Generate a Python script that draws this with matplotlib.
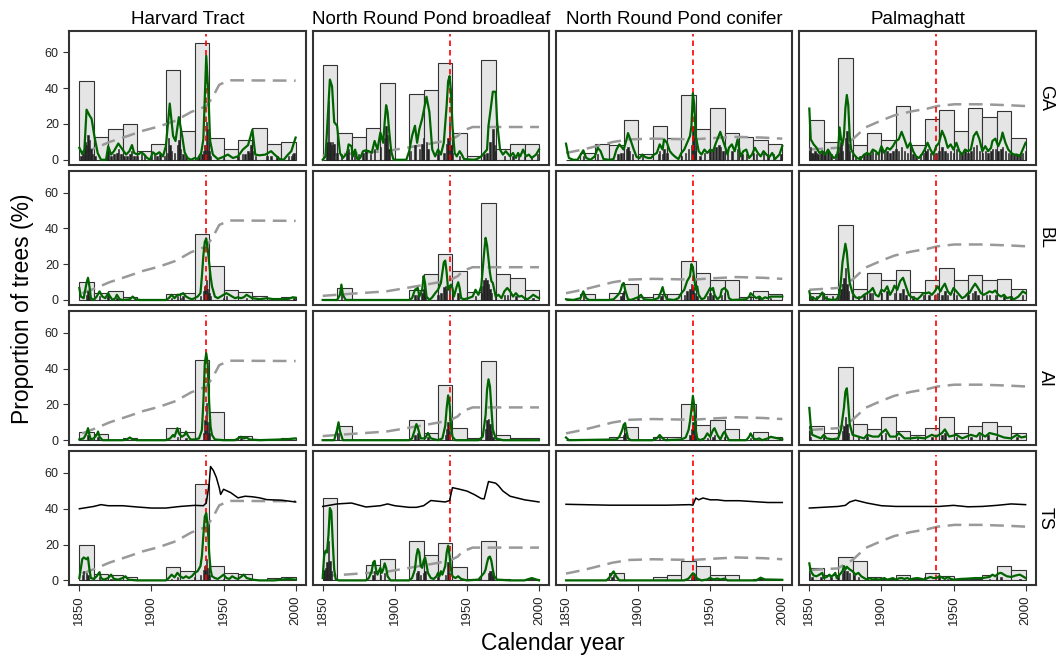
import numpy as np
import matplotlib.pyplot as plt

plt.rcParams['font.family'] = ['Liberation Sans', 'DejaVu Sans']

sites = ["Harvard Tract", "North Round Pond broadleaf", "North Round Pond conifer", "Palmaghatt"]
groups = ["GA", "BL", "AI", "TS"]
decades = np.arange(1850, 2000, 10)
hurricane = 1938

# decadal proportion of trees (%) - light grey bars
dec_ga_hf = [44, 13, 17, 20, 5, 9, 50, 16, 65, 12, 6, 11, 18, 9, 10]
dec_ga_nb = [53, 15, 13, 18, 43, 0, 37, 39, 54, 15, 2, 56, 6, 9, 9]
dec_ga_nc = [0, 4, 9, 8, 22, 3, 19, 12, 36, 17, 29, 15, 13, 11, 9]
dec_ga_pg = [22, 10, 57, 8, 15, 11, 30, 8, 23, 28, 16, 29, 24, 27, 12]
dec_bl_hf = [10, 4, 5, 1.5, 0, 0, 3.4, 3.8, 37, 19, 5.5, 4.4, 2.3, 1.1, 1.7]
dec_bl_nb = [0, 6.5, 0, 0, 0, 0, 5.3, 14.3, 25.5, 16, 4.4, 54, 14.3, 12, 5.3]
dec_bl_nc = [0, 3.6, 0, 3.8, 9, 1.5, 3.6, 3.6, 22, 15, 11.4, 11, 1.5, 5, 3.4]
dec_bl_pg = [3.8, 3.4, 42, 6.3, 15, 11.4, 16.6, 4.4, 11, 17.7, 11, 13.7, 11, 11.6, 5.9]
dec_ai_hf = [4.8, 3.4, 0, 1.1, 0, 0, 6.9, 4.6, 45, 15.6, 0.6, 2.5, 0.6, 0.6, 1.1]
dec_ai_nb = [0, 8, 0, 0, 0, 0, 11, 4, 31, 7, 1, 44, 3, 1, 1]
dec_ai_nc = [0, 0, 0, 1.5, 7.2, 0, 1.5, 1.5, 20, 8.4, 11, 6.3, 0, 4.6, 1.5]
dec_ai_pg = [8, 4, 41, 9, 6, 13, 5, 3, 7, 13, 4, 8, 10, 8, 4]
dec_ts_hf = [20, 3.6, 2.9, 1.9, 0, 0, 7.2, 5.5, 54, 7.8, 4.2, 3.4, 0, 1.3, 1.9]
dec_ts_nb = [46, 0, 0, 8.6, 11.8, 0, 22, 14.3, 21, 7.2, 1, 22, 1, 0, 1]
dec_ts_nc = [0, 0, 0, 4, 0, 0, 2, 3, 11, 8, 3, 3, 0, 1, 1]
dec_ts_pg = [7, 3.2, 13, 11, 1.7, 1, 3.2, 1, 4.2, 2.7, 1, 1, 3.2, 8, 6]

# annual proportion of trees (%) - thin black bars (year, value)
ann_ga_hf = [(1851, 2), (1852, 5), (1853, 3), (1854, 10), (1855, 8), (1856, 14), (1857, 11), (1858, 6), (1859, 3),
             (1861, 2), (1869, 2), (1870, 5), (1872, 2), (1874, 3), (1876, 4), (1877, 6), (1879, 3), (1881, 2),
             (1883, 2), (1885, 3), (1886, 5), (1888, 2), (1890, 2), (1893, 3), (1895, 2), (1900, 2), (1902, 3),
             (1904, 2), (1906, 3), (1909, 2), (1911, 4), (1912, 12), (1913, 8), (1914, 5), (1916, 4), (1918, 8),
             (1919, 11), (1920, 6), (1922, 3), (1924, 2), (1933, 2), (1935, 3), (1936, 5), (1937, 8), (1938, 21),
             (1939, 17), (1940, 5), (1941, 2), (1950, 1), (1960, 2), (1963, 3), (1965, 3), (1967, 5), (1968, 4),
             (1969, 8), (1970, 5), (1972, 2), (1980, 2), (1983, 2), (1987, 2), (1995, 2), (1997, 2), (1998, 3),
             (1999, 4)]
ann_ga_nb = [(1853, 10), (1854, 33), (1855, 10), (1856, 8), (1857, 10), (1858, 9), (1860, 4), (1863, 3), (1867, 5),
             (1868, 6), (1870, 6), (1872, 5), (1875, 3), (1878, 4), (1880, 5), (1883, 3), (1886, 6), (1890, 7),
             (1893, 12), (1894, 19), (1895, 14), (1896, 6), (1911, 5), (1914, 8), (1917, 6), (1919, 9), (1920, 12),
             (1922, 10), (1923, 6), (1930, 3), (1934, 4), (1936, 9), (1937, 12), (1938, 21), (1939, 8), (1940, 4),
             (1945, 2), (1962, 3), (1964, 4), (1966, 10), (1968, 17), (1969, 8), (1970, 5), (1976, 2), (1982, 2),
             (1986, 3), (1990, 2), (1995, 2), (1999, 3)]
ann_ga_nc = [(1862, 2), (1872, 3), (1886, 3), (1888, 4), (1890, 4), (1892, 6), (1893, 7), (1894, 5), (1896, 3),
             (1903, 2), (1914, 3), (1915, 5), (1917, 3), (1918, 6), (1920, 4), (1930, 2), (1933, 4), (1935, 6),
             (1937, 8), (1938, 19), (1939, 12), (1940, 5), (1943, 2), (1946, 4), (1950, 5), (1952, 6), (1954, 7),
             (1956, 8), (1957, 7), (1959, 5), (1962, 3), (1965, 5), (1969, 6), (1972, 3), (1975, 3), (1980, 4),
             (1982, 3), (1987, 4), (1990, 2), (1994, 3), (1999, 3)]
ann_ga_pg = [(1850, 5), (1851, 7), (1852, 4), (1853, 3), (1854, 5), (1855, 4), (1856, 3), (1858, 4), (1859, 5),
             (1861, 3), (1863, 5), (1865, 3), (1868, 3), (1870, 4), (1871, 7), (1872, 10), (1873, 5), (1875, 12),
             (1876, 16), (1877, 9), (1878, 5), (1880, 3), (1882, 2), (1885, 2), (1888, 3), (1890, 4), (1892, 3),
             (1894, 5), (1896, 4), (1898, 3), (1900, 6), (1902, 4), (1904, 5), (1906, 4), (1908, 5), (1910, 6),
             (1912, 5), (1914, 7), (1916, 5), (1918, 4), (1920, 6), (1922, 3), (1924, 2), (1927, 3), (1929, 4),
             (1931, 5), (1932, 6), (1934, 4), (1936, 3), (1938, 4), (1940, 5), (1942, 7), (1944, 5), (1946, 4),
             (1948, 5), (1950, 4), (1952, 6), (1954, 4), (1956, 3), (1958, 5), (1960, 4), (1962, 5), (1964, 7),
             (1966, 8), (1968, 5), (1970, 4), (1972, 5), (1974, 4), (1976, 5), (1977, 6), (1979, 6), (1981, 5),
             (1983, 6), (1984, 7), (1986, 5), (1988, 4), (1990, 3), (1992, 3), (1994, 3), (1996, 3), (1998, 4),
             (2000, 5)]
ann_bl_hf = [(1855, 3), (1856, 5), (1857, 2), (1864, 2), (1870, 2), (1876, 1), (1914, 1), (1918, 2), (1920, 1),
             (1922, 2), (1934, 2), (1936, 5), (1937, 8), (1938, 11), (1939, 6), (1940, 4), (1941, 2), (1950, 1),
             (1952, 2), (1966, 1), (1999, 1)]
ann_bl_nb = [(1863, 5), (1914, 3), (1916, 3), (1919, 4), (1920, 6), (1921, 4), (1930, 3), (1932, 4), (1934, 7),
             (1935, 8), (1936, 6), (1938, 7), (1940, 3), (1944, 4), (1956, 2), (1960, 4), (1961, 8), (1962, 11),
             (1963, 12), (1964, 11), (1965, 9), (1966, 6), (1967, 4), (1970, 2), (1976, 3), (1978, 3), (1984, 2),
             (1990, 1), (1996, 1)]
ann_bl_nc = [(1862, 3), (1888, 2), (1889, 4), (1890, 5), (1900, 1), (1916, 2), (1917, 3), (1932, 3), (1934, 5),
             (1936, 6), (1937, 9), (1938, 7), (1939, 4), (1941, 2), (1948, 2), (1950, 4), (1952, 3), (1958, 3),
             (1960, 4), (1978, 2), (1984, 2), (1992, 1)]
ann_bl_pg = [(1850, 4), (1852, 2), (1855, 2), (1859, 3), (1862, 2), (1866, 2), (1871, 3), (1872, 6), (1873, 9),
             (1874, 12), (1875, 18), (1876, 9), (1877, 5), (1880, 3), (1884, 2), (1888, 3), (1892, 4), (1894, 4),
             (1900, 4), (1904, 5), (1909, 4), (1913, 4), (1915, 6), (1917, 3), (1922, 2), (1929, 3), (1933, 3),
             (1937, 3), (1939, 4), (1942, 3), (1944, 5), (1946, 3), (1950, 4), (1952, 3), (1960, 3), (1963, 4),
             (1965, 5), (1967, 3), (1973, 3), (1975, 3), (1979, 3), (1985, 2), (1990, 2), (1998, 3)]
ann_ai_hf = [(1856, 3), (1863, 2), (1918, 2), (1924, 1), (1936, 4), (1937, 11), (1938, 21), (1939, 10), (1940, 4),
             (1962, 1)]
ann_ai_nb = [(1861, 4), (1914, 3), (1916, 4), (1923, 2), (1935, 3), (1936, 6), (1937, 10), (1938, 5), (1963, 6),
             (1964, 11), (1965, 12), (1966, 9), (1967, 5), (1968, 2)]
ann_ai_nc = [(1890, 3), (1891, 4), (1915, 1), (1936, 3), (1937, 6), (1938, 10), (1939, 7), (1940, 3), (1948, 1),
             (1952, 2), (1953, 3), (1960, 2), (1978, 1)]
ann_ai_pg = [(1850, 5), (1851, 2), (1860, 2), (1873, 5), (1874, 8), (1875, 13), (1876, 9), (1877, 4), (1884, 2),
             (1890, 2), (1900, 3), (1903, 4), (1912, 2), (1925, 1), (1935, 2), (1942, 3), (1944, 4), (1952, 2),
             (1962, 2), (1968, 3), (1974, 3), (1980, 2), (1994, 2)]
ann_ts_hf = [(1852, 3), (1853, 5), (1855, 4), (1856, 3), (1864, 2), (1872, 1), (1914, 1), (1918, 2), (1930, 2),
             (1934, 3), (1936, 6), (1937, 8), (1938, 12), (1939, 7), (1940, 3), (1950, 1)]
ann_ts_nb = [(1851, 6), (1852, 7), (1853, 10), (1854, 22), (1855, 11), (1856, 5), (1885, 3), (1886, 5), (1890, 3),
             (1893, 4), (1915, 4), (1916, 5), (1918, 3), (1920, 4), (1921, 5), (1930, 2), (1935, 3), (1937, 10),
             (1938, 4), (1965, 4), (1966, 5), (1967, 5), (1968, 3)]
ann_ts_nc = [(1882, 2), (1883, 3), (1937, 2), (1938, 3), (1939, 2), (1950, 1), (1956, 1), (1985, 1)]
ann_ts_pg = [(1850, 4), (1852, 2), (1858, 2), (1865, 2), (1870, 3), (1873, 4), (1874, 6), (1876, 5), (1878, 4),
             (1881, 3), (1884, 2), (1910, 1), (1930, 2), (1940, 2), (1946, 1), (1975, 1), (1980, 2), (1983, 2),
             (1996, 1)]

# smoothed annual proportion (%) - green line (year, value)
sm_ga_hf = [(1850, 6.7), (1852, 3.2), (1853.5, 5.7), (1855, 28), (1857, 24.8), (1858.5, 22.9), (1860.4, 13.3),
            (1862.7, 3.8), (1865, 0), (1868.5, 0), (1870, 7.6), (1872, 2.9), (1874, 4.8), (1877, 9.1), (1880, 5.7),
            (1882.4, 2.9), (1884.7, 4.8), (1886.5, 8.2), (1888, 3.8), (1890.5, 2.9), (1893, 4.2), (1895, 2.9),
            (1897, 1), (1899, 0), (1901, 4.2), (1903, 2.9), (1905.5, 4.2), (1908, 1.9), (1910, 7.6), (1912.7, 31.4),
            (1915, 13.3), (1916.7, 10.5), (1919, 23.8), (1921.3, 13.3), (1923, 4.2), (1925, 1), (1927.5, 0),
            (1930, 1), (1932, 0.4), (1934.5, 3.8), (1936, 11.4), (1938, 58), (1939.4, 38), (1940.7, 10.5),
            (1942.6, 2.9), (1946, 0.4), (1949.5, 1.5), (1953, 2.9), (1956.5, 1), (1960, 1.9), (1963.4, 5.7),
            (1967, 8.2), (1970, 16.8), (1972, 2.9), (1975, 2.5), (1979, 2.9), (1983, 4.8), (1985.4, 2.9),
            (1989, 0.4), (1991.7, 0), (1994.7, 2.9), (1997, 4.8), (2000, 12.4)]
sm_ga_nb = [(1850, 0), (1852, 1.9), (1854, 30.5), (1855, 44.8), (1856.5, 41), (1858, 21), (1860, 19), (1862, 3.8),
            (1864, 1), (1867, 3.8), (1868, 8.6), (1870, 7.6), (1871, 1.9), (1872.5, 5.7), (1874, 0.4), (1876, 1),
            (1878, 4.8), (1880, 5.3), (1882, 4.8), (1884, 3.8), (1886, 10.5), (1888, 5.7), (1890, 15.2),
            (1892, 9.5), (1893, 21), (1894, 30.5), (1895, 26.7), (1896, 17), (1897.5, 4.8), (1899, 0.4),
            (1900, 0), (1908, 0), (1910, 4.8), (1912, 13.3), (1914, 19), (1915.5, 9.5), (1917, 17), (1919, 22.9),
            (1922, 35.2), (1924, 26.7), (1926, 5.7), (1928, 1.9), (1930, 5.7), (1932, 2.9), (1934, 9.5),
            (1936, 30.5), (1937, 43.8), (1938, 46.7), (1939, 38), (1940, 19), (1941.5, 3.8), (1943, 1.9),
            (1945, 4.8), (1946.5, 2.9), (1948, 0.4), (1955, 0), (1957, 0.4), (1960, 1.9), (1962, 3.8),
            (1964, 5.7), (1965, 19), (1967, 31.4), (1968, 38), (1970, 38), (1971, 21), (1973, 5.7), (1975, 2.9),
            (1977, 4.8), (1980, 1.9), (1982, 3.8), (1984, 1), (1985.5, 3.8), (1987, 1.9), (1989, 5.7),
            (1991, 1.9), (1993, 2.9), (1995, 1), (1998, 2.9), (2000, 5.7)]
sm_ga_nc = [(1850, 9), (1851, 4.8), (1852, 1), (1855, 0), (1858, 0), (1862, 5.3), (1864, 1), (1867, 0), (1870, 1.9),
            (1872, 6.7), (1874, 4.8), (1876, 0.4), (1880, 0), (1883, 0.4), (1885, 5.7), (1887, 8.6), (1889, 6.7),
            (1890, 5.7), (1892, 11.4), (1893, 14.9), (1895, 10.5), (1897, 5.7), (1899, 1.5), (1901, 1),
            (1903, 2.9), (1905, 1.5), (1907, 1), (1909, 1), (1911, 2.9), (1913, 3.8), (1915, 8.6), (1917, 5.7),
            (1918, 11.4), (1920, 9.5), (1922, 4.8), (1924, 2.9), (1926, 1.5), (1928, 0.4), (1930, 3.8),
            (1932, 5.7), (1934, 9.5), (1936, 13.3), (1937, 19), (1938, 37.1), (1939, 30.5), (1940, 13.3),
            (1942, 4.8), (1944, 2.9), (1946, 5.7), (1948, 3.8), (1950, 5.7), (1952, 4.8), (1954, 9.5),
            (1955, 11.4), (1957, 15.6), (1959, 10.5), (1961, 5.7), (1962, 2.9), (1963, 6.7), (1965, 8.6),
            (1967, 4.8), (1969, 11.4), (1971, 1.9), (1973, 4.8), (1975, 5.7), (1977, 1), (1979, 2.9),
            (1981, 6.7), (1983, 3.8), (1985, 1.9), (1987, 4.8), (1989, 2.9), (1991, 1.5), (1993, 3.8),
            (1995, 0.4), (1998, 2.9), (2000, 7.6)]
sm_ga_pg = [(1850, 28.6), (1851, 11.4), (1853, 8.6), (1855, 6.7), (1857, 3.8), (1859, 4.8), (1861, 2.9),
            (1863, 5.7), (1865, 2.9), (1867, 1), (1869, 1.9), (1870, 5.7), (1871, 18.1), (1872, 11.4),
            (1873, 8.6), (1874, 13.3), (1875, 28.6), (1876, 36.2), (1877, 30.5), (1878, 13.3), (1879, 5.7),
            (1881, 2.9), (1883, 1), (1885, 0.4), (1886, 1), (1888, 2.9), (1890, 3.8), (1892, 2.9), (1894, 5.7),
            (1896, 4.8), (1898, 2.9), (1900, 7.6), (1902, 3.8), (1904, 6.7), (1906, 5.7), (1908, 7.6),
            (1910, 10.5), (1912, 11.4), (1914, 15.6), (1916, 11.4), (1918, 6.7), (1920, 9.5), (1922, 4.8),
            (1924, 1.9), (1926, 1), (1928, 2.9), (1930, 5.7), (1932, 9.5), (1934, 5.7), (1936, 2.9), (1938, 7.6),
            (1940, 9.5), (1942, 16.2), (1944, 12.4), (1946, 6.7), (1948, 8.6), (1950, 5.7), (1952, 9.5),
            (1954, 4.8), (1956, 2.9), (1958, 5.7), (1960, 4.8), (1962, 5.7), (1964, 13.3), (1966, 15.6),
            (1968, 11.4), (1970, 4.8), (1972, 7.6), (1974, 4.8), (1976, 6.7), (1977, 10.5), (1979, 11.8),
            (1981, 7.6), (1983, 11.4), (1984, 15.2), (1986, 9.5), (1988, 5.7), (1990, 3.8), (1992, 2.9),
            (1994, 2.9), (1996, 1.9), (1998, 5.7), (2000, 9.5)]
sm_bl_hf = [(1850, 6.7), (1851, 1.9), (1853, 1), (1855, 9.5), (1856, 12.4), (1857, 7.6), (1858, 1), (1860, 0),
            (1862, 1.9), (1864, 4.8), (1866, 1.9), (1868, 1), (1870, 3.8), (1871, 2.3), (1873, 0), (1875, 1),
            (1876, 2.9), (1878, 0.4), (1880, 0), (1885, 0.4), (1887, 1.9), (1889, 0.4), (1892, 0), (1910, 0),
            (1912, 1), (1914, 2.9), (1916, 1), (1918, 2.9), (1920, 2.9), (1922, 3.8), (1924, 1.9), (1926, 1),
            (1928, 0.4), (1930, 1), (1932, 1.9), (1934, 3.8), (1935, 13.3), (1936, 24.8), (1937, 32.4),
            (1938, 34.3), (1939, 28.6), (1940, 21), (1941, 13.3), (1942, 7.6), (1944, 1.9), (1946, 1), (1948, 1.9),
            (1950, 2.9), (1952, 3.8), (1954, 2.9), (1956, 1.9), (1958, 1), (1960, 1.5), (1962, 1), (1964, 1.5),
            (1966, 2.9), (1968, 1.9), (1970, 1), (1975, 0.4), (1980, 1), (1985, 0.4), (1990, 0.4), (1995, 0.6),
            (1998, 1.5), (2000, 1.3)]
sm_bl_nb = [(1850, 0), (1860, 0), (1862, 2.9), (1863, 8.6), (1864, 2.9), (1866, 0), (1910, 0), (1912, 1),
            (1914, 5.7), (1916, 6.7), (1917, 1.9), (1919, 5.7), (1920, 13.3), (1921, 9.5), (1922, 1.9), (1924, 0),
            (1926, 1.5), (1928, 3.8), (1930, 5.7), (1932, 9.5), (1934, 21), (1935, 22), (1936, 15.2), (1937, 5.7),
            (1939, 8.6), (1940, 6.7), (1941, 1.9), (1943, 7.6), (1944, 9.9), (1945, 6.7), (1946, 1), (1948, 0.4),
            (1951, 1), (1954, 1.9), (1956, 5.7), (1958, 2.9), (1960, 7.6), (1961, 17.1), (1962, 26.7),
            (1963, 34.7), (1964, 30.5), (1965, 22.9), (1966, 15.2), (1967, 10.5), (1968, 9.5), (1970, 1.9),
            (1972, 2.9), (1974, 1), (1976, 4.8), (1978, 6.7), (1980, 4.8), (1982, 1.9), (1984, 3.8), (1986, 1.9),
            (1988, 2.3), (1990, 1), (1992, 0.4), (1994, 1.5), (1996, 2.9), (1998, 1.9), (2000, 1)]
sm_bl_nc = [(1850, 0.4), (1855, 0), (1860, 1), (1862, 4.8), (1864, 1), (1866, 0), (1880, 0), (1883, 0.4),
            (1885, 1.9), (1887, 3.8), (1888, 5.7), (1889, 8.6), (1890, 9.5), (1891, 5.7), (1893, 0.4), (1895, 0),
            (1900, 1.5), (1902, 2.9), (1904, 0.4), (1910, 0), (1914, 1), (1916, 4.8), (1917, 7.2), (1918, 3.8),
            (1920, 0.4), (1925, 0), (1928, 1), (1930, 3.8), (1932, 5.7), (1934, 10.5), (1936, 13.3), (1937, 20),
            (1938, 18.1), (1939, 11.4), (1940, 5.7), (1941, 7.6), (1942, 2.9), (1944, 0.4), (1946, 1),
            (1948, 3.8), (1950, 6.7), (1951, 5.7), (1952, 6.7), (1953, 2.9), (1955, 0.4), (1957, 1.9),
            (1958, 5.7), (1960, 6.7), (1962, 4.8), (1963, 1), (1965, 0), (1975, 0.4), (1977, 1.9), (1978, 3.8),
            (1980, 2.3), (1982, 1), (1984, 1.9), (1986, 0.4), (1988, 1.5), (1990, 1), (1992, 1.9), (2000, 1.9)]
sm_bl_pg = [(1850, 4.8), (1851, 1), (1853, 1), (1855, 0.4), (1857, 1.9), (1859, 4.2), (1861, 1), (1863, 0.4),
            (1866, 0), (1869, 0.4), (1871, 3.8), (1872, 11.4), (1873, 21), (1875, 31.4), (1876, 26.7),
            (1877, 17.1), (1878, 9.5), (1880, 3.8), (1882, 1.5), (1884, 1), (1886, 1.5), (1888, 2.9), (1890, 3.8),
            (1892, 4.8), (1894, 6.7), (1896, 2.9), (1898, 1.9), (1900, 5.7), (1902, 4.8), (1904, 7.6),
            (1906, 2.9), (1908, 5.7), (1909, 8), (1911, 5.7), (1913, 10.5), (1915, 12.4), (1917, 7.6),
            (1919, 2.9), (1921, 1.5), (1923, 1), (1925, 0.4), (1927, 1.9), (1929, 3.8), (1931, 3.8), (1933, 4.2),
            (1935, 2.9), (1937, 4.8), (1939, 7.6), (1941, 4.8), (1942, 6.7), (1944, 9.1), (1946, 4.8),
            (1948, 2.9), (1950, 6.7), (1952, 4.8), (1954, 2.9), (1956, 1), (1958, 1.9), (1960, 3.8), (1961, 3.8),
            (1963, 6.7), (1965, 9.1), (1967, 6.7), (1969, 3.8), (1971, 2.9), (1973, 3.8), (1975, 4.8),
            (1977, 4.2), (1979, 5.3), (1981, 2.9), (1983, 1.9), (1985, 2.9), (1987, 1), (1989, 1.5), (1992, 0.4),
            (1995, 1.9), (1998, 4.8), (2000, 3.8)]
sm_ai_hf = [(1850, 0.4), (1853, 1), (1855, 3.8), (1856, 6.7), (1857, 2.9), (1858, 0.4), (1860, 1), (1862, 2.9),
            (1863, 4.8), (1864, 1.9), (1866, 0), (1880, 0), (1883, 0.4), (1885, 1.5), (1887, 0.4), (1890, 0),
            (1910, 0), (1913, 1), (1915, 2.9), (1916, 1.9), (1918, 6.7), (1919, 3.8), (1921, 1.9), (1923, 2.9),
            (1924, 4.8), (1925, 2.9), (1927, 0.4), (1930, 0.4), (1933, 1), (1935, 5.7), (1936, 21), (1937, 42.9),
            (1938, 48.6), (1939, 42.9), (1940, 21), (1941, 7.6), (1942, 2.9), (1944, 0.4), (1950, 0), (1958, 0),
            (1960, 1), (1962, 1.9), (1964, 1), (1966, 1.5), (1968, 0.4), (1975, 0), (1990, 0.4), (1995, 0.6),
            (2000, 1)]
sm_ai_nb = [(1850, 0), (1858, 0), (1860, 6), (1861, 10), (1862, 5), (1864, 0), (1910, 0), (1912, 1), (1914, 6),
            (1915, 9), (1916, 7), (1918, 1), (1921, 1), (1923, 4), (1925, 1), (1930, 0), (1933, 1), (1935, 8),
            (1936, 18), (1937, 25), (1938, 20), (1939, 8), (1940, 2), (1942, 0), (1958, 0), (1961, 2), (1963, 14),
            (1964, 28), (1965, 34), (1966, 30), (1967, 18), (1968, 6), (1970, 1), (1975, 0), (1990, 0), (2000, 0)]
sm_ai_nc = [(1850, 1.5), (1852, 0), (1885, 0.4), (1887, 1.9), (1888, 3.8), (1889, 5.7), (1890, 8.6), (1891, 9.5),
            (1892, 4.8), (1893, 1), (1895, 0), (1910, 0), (1913, 1), (1915, 2.9), (1917, 1), (1919, 0), (1930, 0.4),
            (1933, 1.5), (1935, 5.7), (1936, 10.5), (1937, 17.1), (1938, 24.8), (1939, 19), (1940, 5.7),
            (1941, 1), (1943, 0), (1946, 1), (1948, 3.8), (1950, 1.9), (1952, 5.7), (1953, 6.7), (1955, 2.9),
            (1957, 0.4), (1959, 3.8), (1960, 4.8), (1961, 2.9), (1963, 0), (1975, 0), (1977, 1.9), (1978, 3.8),
            (1980, 1), (1982, 0.4), (1984, 1), (1986, 0), (1990, 1), (1992, 1.9), (2000, 0.4)]
sm_ai_pg = [(1850, 18), (1851, 8), (1852, 3), (1855, 2), (1858, 1), (1860, 3), (1862, 1), (1866, 0.5), (1870, 1),
            (1872, 6), (1874, 18), (1875, 27), (1876, 29), (1877, 20), (1878, 9), (1880, 3), (1884, 2), (1888, 1),
            (1890, 3), (1894, 2), (1898, 2), (1900, 4), (1903, 6), (1906, 2), (1910, 2), (1912, 4), (1916, 1),
            (1920, 1), (1925, 1.5), (1930, 1), (1935, 3), (1938, 2), (1942, 4), (1944, 6), (1947, 2), (1952, 3),
            (1956, 1), (1962, 3), (1966, 2), (1968, 4), (1972, 2), (1975, 4), (1980, 3), (1985, 1.5), (1990, 1),
            (1994, 3), (1997, 1.5), (2000, 2)]
sm_ts_hf = [(1850, 1.3), (1852, 11.8), (1853, 12.8), (1855, 11.8), (1856, 12.8), (1857, 6), (1858, 1.3),
            (1860, 0.8), (1862, 2.3), (1864, 4.6), (1865, 1.3), (1867, 0.4), (1870, 1.3), (1872, 3.2), (1874, 0.8),
            (1877, 0.4), (1880, 1.3), (1882, 2.3), (1884, 0.4), (1890, 0), (1910, 0), (1912, 1.3), (1914, 3.2),
            (1916, 1.7), (1918, 4.2), (1920, 2.3), (1922, 1.3), (1924, 2.3), (1926, 1.3), (1928, 2.3), (1930, 4.2),
            (1932, 5.1), (1934, 8), (1935, 13.7), (1936, 25.1), (1937, 35.6), (1938, 37.5), (1939, 30.9),
            (1940, 15.6), (1941, 6), (1942, 2.3), (1944, 1.3), (1946, 0.8), (1948, 1.9), (1950, 3.2), (1952, 1.3),
            (1954, 0.8), (1956, 2.3), (1958, 1.3), (1960, 0.8), (1962, 1.9), (1964, 3.2), (1966, 1.3), (1970, 0.4),
            (1975, 0), (1985, 0), (1990, 0.4), (1995, 0.8), (2000, 0.4)]
sm_ts_nb = [(1850, 1.3), (1851, 13.7), (1852, 16.6), (1853, 15.6), (1854, 25.1), (1855, 40.4), (1856, 38.5),
            (1857, 21.3), (1858, 6), (1859, 0.8), (1861, 0), (1880, 0), (1882, 1.3), (1884, 5.1), (1885, 9.9),
            (1886, 10.9), (1887, 6), (1888, 3.2), (1889, 5.1), (1890, 7), (1891, 4.2), (1892, 6.1), (1893, 9.5),
            (1894, 7), (1895, 2.3), (1897, 0), (1910, 0), (1912, 1.3), (1914, 6.1), (1915, 13.7), (1916, 17.5),
            (1917, 15.6), (1918, 8), (1919, 7), (1920, 10.9), (1921, 12.8), (1922, 8.9), (1923, 4.2), (1925, 1.3),
            (1927, 0.8), (1929, 2.3), (1930, 4.2), (1931, 2.3), (1932, 5.1), (1933, 3.2), (1935, 8), (1936, 15.6),
            (1937, 19.4), (1938, 13.7), (1939, 6.1), (1940, 2.3), (1942, 1.3), (1944, 2.3), (1946, 0.8), (1950, 0),
            (1958, 0.4), (1960, 2.3), (1962, 4.2), (1963, 6.1), (1964, 9.9), (1965, 12.8), (1966, 13.3),
            (1967, 10.9), (1968, 6.1), (1969, 2.3), (1971, 0.4), (1980, 0), (1990, 0), (1995, 1.3), (1997, 0.8),
            (2000, 0)]
sm_ts_nc = [(1850, 0), (1878, 0), (1880, 1.5), (1882, 4), (1883, 5), (1885, 2), (1887, 0), (1932, 0), (1935, 1),
            (1937, 3), (1938, 4), (1939, 3.5), (1941, 1), (1944, 0), (1948, 0.5), (1950, 1.5), (1952, 0.5),
            (1955, 1), (1957, 0.5), (1960, 1), (1962, 0), (1982, 0), (1985, 1.5), (1988, 0.5), (2000, 0.3)]
sm_ts_pg = [(1850, 9.5), (1851, 5.1), (1853, 2.7), (1855, 2.3), (1857, 3.2), (1859, 4.2), (1860, 1.3),
            (1862, 1.9), (1864, 3.2), (1865, 1.9), (1867, 3.2), (1868, 4.2), (1869, 1.3), (1871, 3.2), (1873, 5.1),
            (1874, 8), (1875, 6.1), (1876, 7.6), (1878, 6.1), (1880, 5.1), (1882, 3.2), (1884, 4.2), (1886, 2.3),
            (1888, 1.3), (1890, 0.4), (1892, 1.3), (1894, 0.4), (1896, 0.8), (1898, 0.4), (1900, 0.8),
            (1902, 1.3), (1904, 0.4), (1906, 0.8), (1908, 1.3), (1910, 0.4), (1912, 1.1), (1914, 1.3),
            (1916, 0.8), (1918, 1.3), (1920, 0.4), (1922, 1), (1925, 1.3), (1928, 0.8), (1930, 0.4), (1932, 1.3),
            (1934, 1.9), (1936, 1.3), (1938, 1.3), (1940, 2.3), (1942, 1.7), (1944, 0.8), (1946, 1.9),
            (1948, 0.8), (1950, 0.4), (1955, 0.8), (1960, 1), (1965, 1.3), (1970, 1.3), (1975, 1.9), (1977, 3.2),
            (1979, 2.3), (1981, 3.8), (1983, 4.2), (1985, 3.2), (1987, 2.3), (1990, 1.9), (1993, 2.7),
            (1996, 3.2), (1998, 2.3), (2000, 1.3)]

# cumulative proportion (%) per site - grey dashed line (year, value)
cum_hf = [(1852, 3.8), (1861.6, 6.7), (1870.8, 9.9), (1883.6, 13.3), (1894, 16.2), (1905.6, 18.7), (1917, 21.9),
          (1927.5, 26.7), (1938, 29.9), (1942.6, 35.2), (1947, 41.9), (1954, 44.4), (2000, 44.2)]
cum_nb = [(1850, 2.3), (1870, 3.5), (1894, 4.8), (1908, 6.7), (1921.8, 8.6), (1938, 11), (1943.7, 13.3),
          (1947, 16.2), (1954, 18.3), (2000, 18.3)]
cum_nc = [(1850, 3.8), (1861.6, 5.7), (1873, 8), (1882.4, 9.9), (1894, 11.4), (1910, 11.8), (1938, 11.4),
          (1949.5, 12), (1968, 12.8), (1986.6, 12.4), (2000, 11.8)]
cum_pg = [(1850, 5.7), (1869.7, 6.7), (1880, 11.4), (1889, 18.1), (1899.8, 21.9), (1909, 24.8), (1920.6, 27),
          (1932, 28.6), (1939, 30), (1950.7, 31), (1969, 31), (1987.7, 30.5), (2000, 30)]

# TS row black line (year, value)
tsl_hf = [(1850, 40), (1860, 41.3), (1865, 42.3), (1870, 41.7), (1880, 41.7), (1890, 41), (1900, 40.4),
          (1910, 40.4), (1920, 41.3), (1930, 41.9), (1936, 41.7), (1938, 43.2), (1940, 53.7), (1941, 63.6),
          (1943, 61.3), (1945, 57.5), (1947, 51.8), (1948, 48), (1950, 50.9), (1955, 49), (1960, 46.1),
          (1965, 47), (1970, 46.7), (1975, 46.1), (1980, 45.1), (1990, 44.8), (2000, 43.8)]
tsl_nb = [(1850, 41.3), (1860, 42.7), (1870, 43.2), (1880, 41), (1890, 41.7), (1895, 42.7), (1900, 41.7),
          (1910, 40.8), (1915, 40.8), (1920, 41.7), (1925, 44.6), (1930, 44.2), (1935, 43.8), (1938, 44.6),
          (1940, 51.8), (1945, 50.9), (1950, 49.9), (1955, 48), (1960, 45.7), (1962, 45.5), (1965, 55.2),
          (1970, 54.3), (1972, 52.8), (1975, 49.9), (1980, 47), (1990, 45), (2000, 43.8)]
tsl_nc = [(1850, 42.5), (1880, 42), (1900, 42), (1920, 42), (1936, 42.3), (1938, 42), (1940, 46), (1942, 45),
          (1945, 46), (1950, 45), (1955, 45), (1960, 44.5), (1970, 44.5), (1980, 44), (1990, 43.5), (2000, 43.5)]
tsl_pg = [(1850, 40.4), (1870, 41.3), (1875, 41.9), (1878, 43.8), (1882, 44.8), (1890, 43.2), (1900, 41.7),
          (1910, 41.3), (1920, 41.3), (1940, 41.3), (1950, 41.9), (1960, 41.1), (1970, 41.3), (1980, 41.9),
          (1990, 42.7), (2000, 42.3)]

# lookup tables built from the lists above
decadal = [[dec_ga_hf, dec_ga_nb, dec_ga_nc, dec_ga_pg],
           [dec_bl_hf, dec_bl_nb, dec_bl_nc, dec_bl_pg],
           [dec_ai_hf, dec_ai_nb, dec_ai_nc, dec_ai_pg],
           [dec_ts_hf, dec_ts_nb, dec_ts_nc, dec_ts_pg]]
annual = [[ann_ga_hf, ann_ga_nb, ann_ga_nc, ann_ga_pg],
          [ann_bl_hf, ann_bl_nb, ann_bl_nc, ann_bl_pg],
          [ann_ai_hf, ann_ai_nb, ann_ai_nc, ann_ai_pg],
          [ann_ts_hf, ann_ts_nb, ann_ts_nc, ann_ts_pg]]
smooth = [[sm_ga_hf, sm_ga_nb, sm_ga_nc, sm_ga_pg],
          [sm_bl_hf, sm_bl_nb, sm_bl_nc, sm_bl_pg],
          [sm_ai_hf, sm_ai_nb, sm_ai_nc, sm_ai_pg],
          [sm_ts_hf, sm_ts_nb, sm_ts_nc, sm_ts_pg]]
cumul = [cum_hf, cum_nb, cum_nc, cum_pg]
ts_line = [tsl_hf, tsl_nb, tsl_nc, tsl_pg]

frame = '#333333'

fig, axes = plt.subplots(4, 4, figsize=(10.59, 6.57), dpi=100, sharex=True, sharey=True)
fig.subplots_adjust(left=0.0654, right=0.978, top=0.953, bottom=0.109, wspace=0.029, hspace=0.047)

for r in range(4):
    for c in range(4):
        ax = axes[r, c]
        ax.bar(decades, decadal[r][c], width=10, align='edge', color='#e5e5e5',
               edgecolor=frame, linewidth=0.8, zorder=1)
        cx, cy = zip(*cumul[c])
        ax.plot(cx, cy, color='#999999', lw=1.8, ls=(0, (5.5, 3)), zorder=2)
        ay, av = zip(*annual[r][c])
        ax.bar(ay, av, width=1.0, color='#222222', edgecolor='#222222', linewidth=0.4, zorder=3)
        ax.vlines(hurricane, 0, 70, colors='red', linestyles=(0, (3.3, 2.4)), lw=1.2, zorder=4)
        sx, sy = zip(*smooth[r][c])
        ax.plot(sx, sy, color='#006400', lw=1.6, zorder=5)
        if r == 3:
            tx, ty = zip(*ts_line[c])
            ax.plot(tx, ty, color='black', lw=1.1, zorder=6)
        ax.set_xlim(1843, 2007)
        ax.set_ylim(-2.8, 72)
        for s in ax.spines.values():
            s.set_color(frame)
            s.set_linewidth(1.5)
        ax.tick_params(length=4, width=0.8, color=frame, labelsize=9, labelcolor='#222222')
        if r == 0:
            ax.set_title(sites[c], fontsize=13.5, pad=5)
        if c == 3:
            ax.text(1.04, 0.5, groups[r], transform=ax.transAxes, rotation=-90,
                    ha='center', va='center', fontsize=13)

for ax in axes[:, 0]:
    ax.set_yticks([0, 20, 40, 60])
for ax in axes[3, :]:
    ax.set_xticks([1850, 1900, 1950, 2000])
    ax.tick_params(axis='x', labelrotation=90, labelsize=9.5)
for ax in axes.flat:
    ax.tick_params(left=ax in axes[:, 0], bottom=ax in axes[3, :])

fig.text(0.021, 0.53, 'Proportion of trees (%)', rotation=90, ha='center', va='center', fontsize=16.5)
fig.text(0.522, 0.02, 'Calendar year', ha='center', va='center', fontsize=16.5)

fig.savefig('out.png', dpi=100)
